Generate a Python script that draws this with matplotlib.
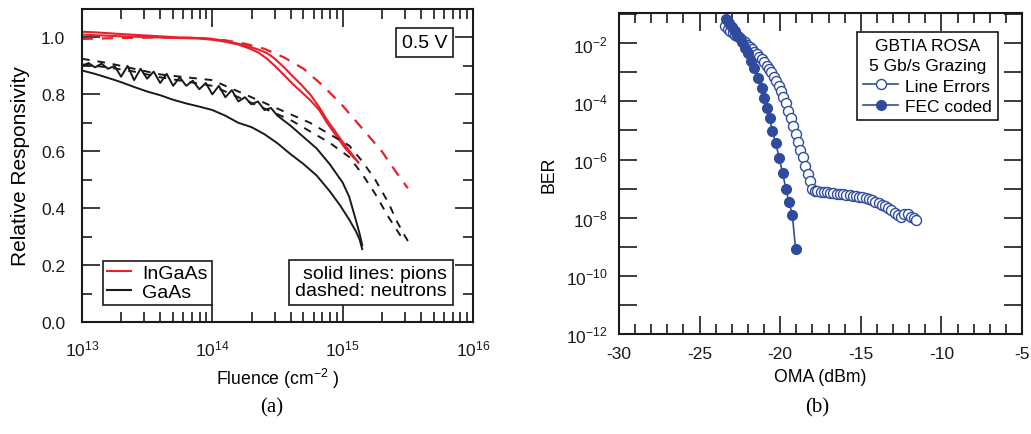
import numpy as np
import matplotlib
matplotlib.use('Agg')
import matplotlib.pyplot as plt
from matplotlib.ticker import LogLocator, NullFormatter, FixedLocator, MultipleLocator
from matplotlib.lines import Line2D

plt.rcParams['font.family'] = ['Liberation Sans', 'DejaVu Sans']
plt.rcParams['mathtext.fontset'] = 'custom'
plt.rcParams['mathtext.rm'] = 'Liberation Sans'
plt.rcParams['axes.unicode_minus'] = False

RED = '#E8202A'
BLACK = '#1A1A1A'
BLUE = '#2F4B9E'

# ── (a) Relative responsivity vs fluence (log10 fluence, responsivity) ──
ingaas_pion1_logf = [13.0, 13.1, 13.2, 13.3, 13.45, 13.6, 13.75, 13.9, 14.0, 14.1, 14.2, 14.28,
                     14.35, 14.42, 14.48, 14.55, 14.62, 14.68, 14.75, 14.82, 14.88, 14.95, 15.02, 15.08, 15.12]
ingaas_pion1_r = [1.02, 1.018, 1.015, 1.012, 1.008, 1.004, 1.0, 0.998, 0.995, 0.988, 0.978, 0.968,
                  0.958, 0.945, 0.925, 0.895, 0.862, 0.835, 0.8, 0.755, 0.71, 0.665, 0.62, 0.585, 0.56]
ingaas_pion2_logf = [13.0, 13.1, 13.2, 13.3, 13.45, 13.6, 13.75, 13.9, 14.0, 14.1, 14.2, 14.28,
                     14.35, 14.42, 14.48, 14.55, 14.62, 14.68, 14.75, 14.82, 14.88, 14.95, 15.02, 15.08, 15.12]
ingaas_pion2_r = [1.01, 1.008, 1.006, 1.004, 1.002, 1.0, 0.998, 0.996, 0.992, 0.985, 0.975, 0.962,
                  0.948, 0.925, 0.9, 0.868, 0.835, 0.81, 0.78, 0.745, 0.7, 0.655, 0.61, 0.58, 0.562]
ingaas_neut_logf = [13.0, 13.3, 13.6, 13.9, 14.1, 14.25, 14.4, 14.55, 14.7, 14.85, 15.0, 15.15, 15.3, 15.42, 15.5]
ingaas_neut_r = [0.995, 0.998, 1.0, 0.998, 0.99, 0.978, 0.96, 0.93, 0.89, 0.83, 0.76, 0.68, 0.6, 0.52, 0.47]

gaas_pion1_logf = [13.0, 13.1, 13.2, 13.3, 13.4, 13.5, 13.6, 13.7, 13.8, 13.9, 14.0, 14.1, 14.2,
                   14.3, 14.4, 14.5, 14.6, 14.7, 14.8, 14.9, 14.98, 15.05, 15.1, 15.13, 15.15]
gaas_pion1_r = [0.884, 0.872, 0.858, 0.843, 0.826, 0.81, 0.797, 0.781, 0.768, 0.757, 0.745, 0.725, 0.7,
                0.685, 0.66, 0.628, 0.59, 0.555, 0.515, 0.46, 0.41, 0.36, 0.32, 0.29, 0.256]
gaas_pion2_logf = [13.0, 13.05, 13.1, 13.15, 13.2, 13.25, 13.3, 13.35, 13.4, 13.45, 13.5, 13.55, 13.6,
                   13.65, 13.7, 13.75, 13.8, 13.85, 13.9, 13.95, 14.0, 14.05, 14.1, 14.15, 14.2, 14.25,
                   14.3, 14.35, 14.4, 14.45, 14.5, 14.6, 14.7, 14.8, 14.9, 15.0, 15.05, 15.1, 15.13, 15.15]
gaas_pion2_r = [0.9, 0.91, 0.895, 0.908, 0.89, 0.9, 0.862, 0.9, 0.85, 0.89, 0.855, 0.88, 0.84,
                0.872, 0.83, 0.86, 0.83, 0.848, 0.818, 0.84, 0.8, 0.83, 0.79, 0.815, 0.775, 0.79,
                0.765, 0.775, 0.745, 0.752, 0.725, 0.69, 0.65, 0.61, 0.555, 0.49, 0.44, 0.36, 0.31, 0.27]
gaas_neut1_logf = [13.0, 13.2, 13.4, 13.6, 13.8, 14.0, 14.15, 14.3, 14.45, 14.6, 14.75, 14.9,
                   15.05, 15.15, 15.25, 15.35, 15.42, 15.48, 15.52]
gaas_neut1_r = [0.925, 0.91, 0.89, 0.87, 0.86, 0.85, 0.82, 0.79, 0.76, 0.73, 0.7, 0.66, 0.62,
                0.565, 0.5, 0.42, 0.35, 0.3, 0.27]
gaas_neut2_logf = [13.0, 13.2, 13.4, 13.6, 13.8, 14.0, 14.15, 14.3, 14.45, 14.6, 14.75, 14.9,
                   15.05, 15.15, 15.25, 15.35, 15.42, 15.47]
gaas_neut2_r = [0.905, 0.895, 0.88, 0.86, 0.845, 0.83, 0.8, 0.77, 0.74, 0.71, 0.67, 0.63, 0.58,
                0.52, 0.45, 0.37, 0.32, 0.285]

# ── (b) BER vs OMA ──
line_oma = [-23.4, -23.25, -23.1, -22.95, -22.8, -22.65, -22.5, -22.35, -22.2, -22.05, -21.9, -21.75,
            -21.6, -21.45, -21.3, -21.15, -21.0, -20.85, -20.7, -20.55, -20.4, -20.25, -20.1, -19.95,
            -19.8, -19.65, -19.5, -19.35, -19.2, -19.05, -18.9, -18.75, -18.6, -18.45, -18.3, -18.15,
            -18.0, -17.85, -17.7, -17.5, -17.3, -17.1, -16.9, -16.7, -16.5, -16.3, -16.1, -15.9,
            -15.7, -15.5, -15.3, -15.1, -14.9, -14.7, -14.5, -14.3, -14.1, -13.9, -13.7, -13.5,
            -13.3, -13.1, -12.9, -12.7, -12.5, -12.3, -12.1, -11.9, -11.7, -11.55]
line_ber = [3.8e-2, 3.2e-2, 2.7e-2, 2.3e-2, 2.0e-2, 1.75e-2, 1.55e-2, 1.3e-2, 1.1e-2, 9.0e-3, 7.5e-3, 6.2e-3,
            5.2e-3, 4.3e-3, 3.5e-3, 2.8e-3, 2.2e-3, 1.7e-3, 1.3e-3, 1.0e-3, 7.0e-4, 5.0e-4, 3.4e-4, 2.2e-4,
            1.4e-4, 8.5e-5, 4.8e-5, 2.7e-5, 1.4e-5, 7.5e-6, 4.0e-6, 2.1e-6, 1.2e-6, 6.0e-7, 3.2e-7, 1.8e-7,
            1.0e-7, 8.5e-8, 8.0e-8, 7.8e-8, 7.7e-8, 7.4e-8, 7.2e-8, 6.9e-8, 6.7e-8, 6.6e-8, 6.4e-8, 6.2e-8,
            6.0e-8, 5.8e-8, 5.6e-8, 5.3e-8, 5.0e-8, 4.6e-8, 4.3e-8, 4.0e-8, 3.6e-8, 3.2e-8, 2.8e-8, 2.5e-8,
            2.2e-8, 1.8e-8, 1.5e-8, 1.2e-8, 1.1e-8, 1.3e-8, 1.3e-8, 1.1e-8, 1.0e-8, 8.3e-9]
fec_oma = [-23.37, -23.2, -23.0, -22.8, -22.6, -22.4, -22.2, -22.0, -21.8, -21.6, -21.35, -21.15,
           -21.0, -20.85, -20.65, -20.5, -20.27, -20.06, -19.85, -19.65, -19.46, -19.25, -19.05]
fec_ber = [6.8e-2, 5.0e-2, 3.6e-2, 2.6e-2, 1.75e-2, 1.1e-2, 7.0e-3, 4.5e-3, 2.4e-3, 1.4e-3, 6.2e-4, 3.0e-4,
           1.35e-4, 5.8e-5, 2.6e-5, 9.5e-6, 3.6e-6, 1.1e-6, 3.4e-7, 1.0e-7, 3.5e-8, 1.25e-8, 8.5e-10]

fig = plt.figure(figsize=(10.31, 4.35), dpi=100, facecolor='white')
ax1 = fig.add_axes([0.0795, 0.2575, 0.3793, 0.7195])
ax2 = fig.add_axes([0.6004, 0.2299, 0.3909, 0.7379])

TICK_FS = 12.5
LABEL_FS = 12.7
BOX_FS = 14

# ---- panel (a) ----
f = lambda lf: 10.0 ** np.array(lf)
ax1.plot(f(ingaas_pion1_logf), ingaas_pion1_r, color=RED, lw=1.5)
ax1.plot(f(ingaas_pion2_logf), ingaas_pion2_r, color=RED, lw=1.5)
ax1.plot(f(ingaas_neut_logf), ingaas_neut_r, color=RED, lw=1.6, dashes=(5, 4))
ax1.plot(f(gaas_pion1_logf), gaas_pion1_r, color=BLACK, lw=1.4)
ax1.plot(f(gaas_pion2_logf), gaas_pion2_r, color=BLACK, lw=1.4)
ax1.plot(f(gaas_neut1_logf), gaas_neut1_r, color=BLACK, lw=1.4, dashes=(4, 4))
ax1.plot(f(gaas_neut2_logf), gaas_neut2_r, color=BLACK, lw=1.4, dashes=(4, 4))

ax1.set_xscale('log')
ax1.set_xlim(1e13, 1e16)
ax1.set_ylim(0, 1.1)
ax1.yaxis.set_major_locator(MultipleLocator(0.2))
ax1.yaxis.set_minor_locator(MultipleLocator(0.1))
ax1.xaxis.set_major_locator(LogLocator(base=10, numticks=10))
ax1.xaxis.set_minor_locator(LogLocator(base=10, subs=np.arange(2, 10), numticks=40))
ax1.xaxis.set_minor_formatter(NullFormatter())
ax1.set_yticklabels(['%.1f' % v for v in ax1.get_yticks()])
ax1.set_xlabel('Fluence (cm$^{-2}$ )', fontsize=LABEL_FS, labelpad=5)
ax1.set_ylabel('Relative Responsivity', fontsize=15, labelpad=8)

leg1 = ax1.legend(handles=[Line2D([], [], color=RED, lw=1.5, label='InGaAs'),
                           Line2D([], [], color=BLACK, lw=1.5, label='GaAs')],
                  loc='lower left', bbox_to_anchor=(0.055, 0.055), fontsize=BOX_FS,
                  handlelength=1.2, handletextpad=0.6, labelspacing=0.05, borderpad=0.2,
                  borderaxespad=0, fancybox=False, framealpha=1, edgecolor=BLACK)
leg1.get_frame().set_linewidth(1.2)
ax1.text(0.933, 0.072, 'solid lines: pions\ndashed: neutrons', transform=ax1.transAxes,
         ha='right', va='bottom', fontsize=BOX_FS, linespacing=1.0,
         bbox=dict(boxstyle='square,pad=0.3', fc='white', ec=BLACK, lw=1.2))
ax1.text(0.935, 0.893, '0.5 V', transform=ax1.transAxes, ha='right', va='center',
         fontsize=BOX_FS, bbox=dict(boxstyle='square,pad=0.3', fc='white', ec=BLACK, lw=1.2))

# ---- panel (b) ----
ax2.plot(line_oma, line_ber, color=BLUE, lw=1.2, marker='o', ms=7.2, mfc='white',
         mec=BLUE, mew=1.0, label='Line Errors')
ax2.plot(fec_oma, fec_ber, color=BLUE, lw=1.2, marker='o', ms=7.0, mfc=BLUE,
         mec=BLUE, label='FEC coded')
ax2.set_yscale('log')
ax2.set_xlim(-30, -5)
ax2.set_ylim(1e-12, 1.1e-1)
ax2.xaxis.set_major_locator(MultipleLocator(5))
ax2.xaxis.set_minor_locator(MultipleLocator(1))
ax2.yaxis.set_major_locator(FixedLocator([1e-12, 1e-10, 1e-8, 1e-6, 1e-4, 1e-2]))
ax2.yaxis.set_minor_locator(FixedLocator([1e-11, 1e-9, 1e-7, 1e-5, 1e-3, 1e-1]))
ax2.yaxis.set_minor_formatter(NullFormatter())
ax2.set_yticklabels(['$10^{%d}$' % e for e in [-12, -10, -8, -6, -4, -2]])
ax2.set_xlabel('OMA (dBm)', fontsize=LABEL_FS, labelpad=5)
ax2.set_ylabel('BER', fontsize=LABEL_FS, labelpad=6)
leg2 = ax2.legend(loc='upper right', bbox_to_anchor=(0.94, 0.941), fontsize=TICK_FS,
                  title='GBTIA ROSA\n5 Gb/s Grazing', title_fontsize=TICK_FS,
                  handlelength=2.0, handletextpad=0.4, labelspacing=0.3, borderpad=0.35,
                  borderaxespad=0, fancybox=False, framealpha=1, edgecolor=BLACK)
leg2.get_frame().set_linewidth(1.2)
leg2.get_title().set_multialignment('center')
leg2.get_title().set_linespacing(1.4)
leg2._legend_box.sep = 4

for ax in (ax1, ax2):
    for s in ax.spines.values():
        s.set_linewidth(1.5)
        s.set_color(BLACK)
    ax.tick_params(which='both', direction='in', top=True, right=True, width=1.2,
                   labelsize=TICK_FS, colors=BLACK)
    ax.tick_params(which='major', length=13)
    ax.tick_params(which='minor', length=7)
ax1.tick_params(axis='x', pad=12)
ax1.tick_params(axis='y', pad=12)
ax2.tick_params(axis='x', pad=9)
ax2.tick_params(axis='y', pad=8)
ax2.tick_params(axis='y', which='minor', length=13)

fig.text(0.264, 0.063, '(a)', ha='center', va='center', fontsize=15, family='Liberation Serif')
fig.text(0.793, 0.063, '(b)', ha='center', va='center', fontsize=15, family='Liberation Serif')

fig.savefig('out.png', dpi=100, facecolor='white')
